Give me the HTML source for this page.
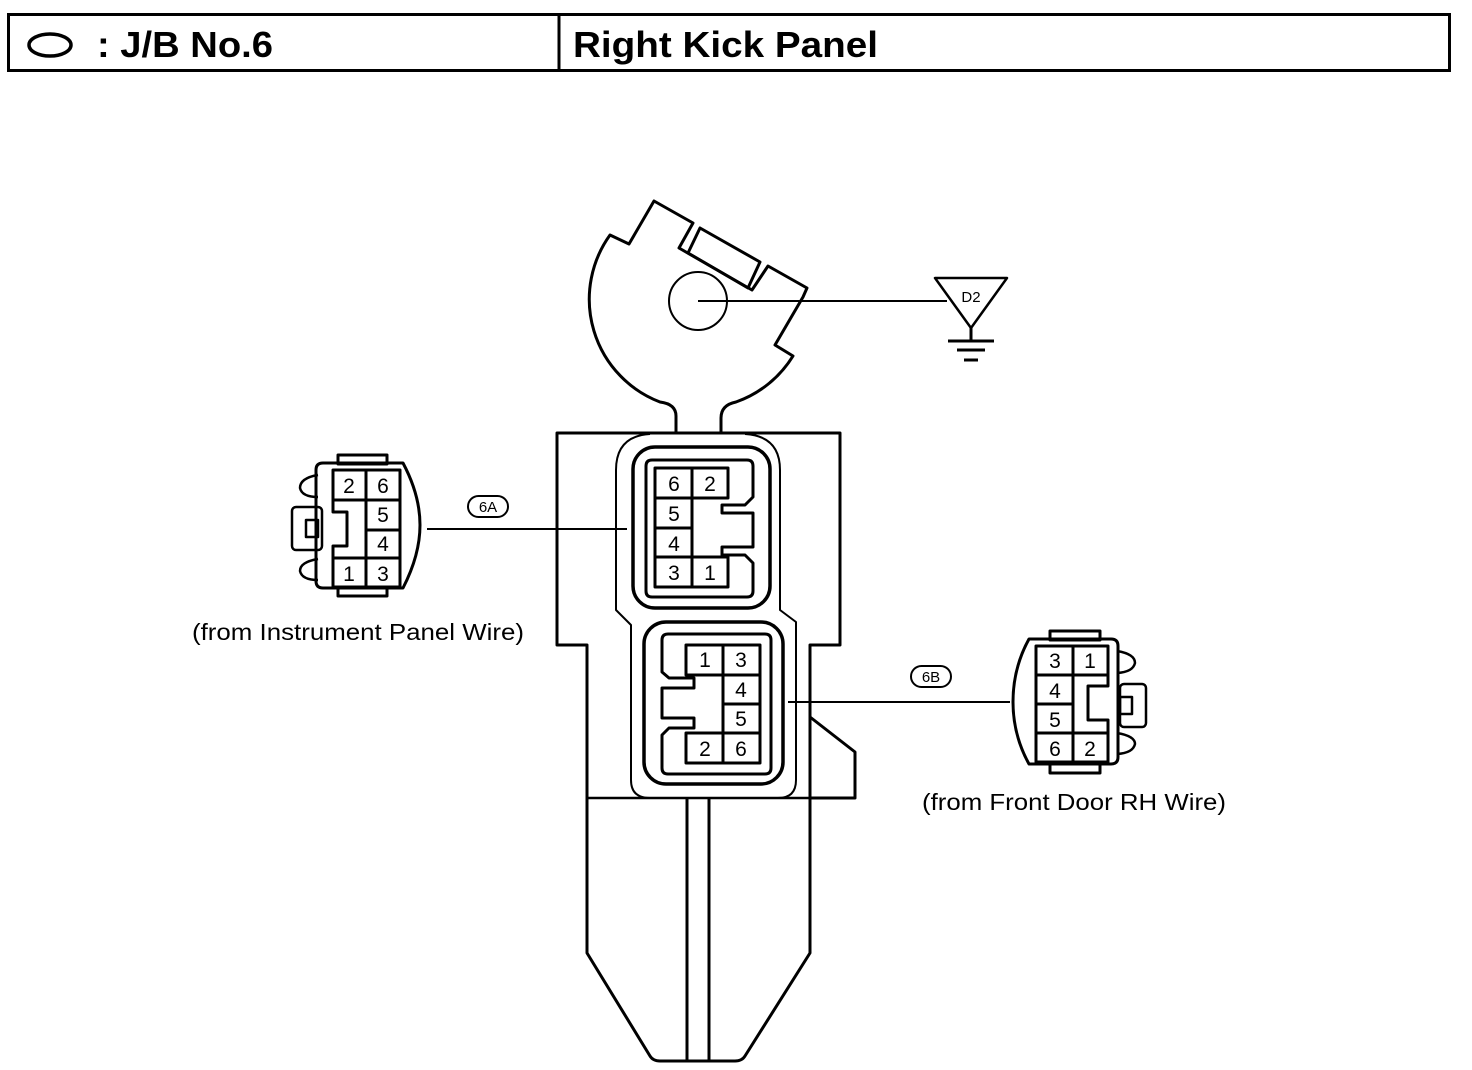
<!DOCTYPE html>
<html><head><meta charset="utf-8"><style>
html,body{margin:0;padding:0;background:#fff;}
svg{display:block;}
text{font-family:"Liberation Sans",Arial,sans-serif;fill:#000;}
</style></head><body>
<svg width="1472" height="1070" viewBox="0 0 1472 1070" xmlns="http://www.w3.org/2000/svg">
<!-- header -->
<rect x="8.5" y="14.5" width="1441" height="56" fill="none" stroke="#000" stroke-width="3"/>
<line x1="559" y1="14" x2="559" y2="71" stroke="#000" stroke-width="3"/>
<ellipse cx="50" cy="45" rx="21" ry="11" fill="none" stroke="#000" stroke-width="3.5"/>
<text x="97" y="57" font-size="36" font-weight="bold" textLength="176" lengthAdjust="spacingAndGlyphs">: J/B No.6</text>
<text x="573" y="57" font-size="36" font-weight="bold" textLength="305" lengthAdjust="spacingAndGlyphs">Right Kick Panel</text>

<g fill="none" stroke="#000" stroke-width="3" stroke-linejoin="round">
<!-- top bracket -->
<path d="M676,433 L676,416 Q676,404 660,402 A110,110 0 0 1 610,235 L629,244 L654,201 L693,223 L679,248 L752,290 L768,266 L807,288 L803,297 L775,345 L793,356 A110,110 0 0 1 736,402 Q721,405 721,418 L721,433"/>
<polygon points="700,228 760,262 748,288 688,253"/>
<circle cx="698" cy="301" r="29" stroke-width="2"/>
<!-- body outline -->
<path d="M587,953 L587,645 L557,645 L557,433 L840,433 L840,645 L810,645 L810,953 L745,1056 Q742,1061 735,1061 L660,1061 Q653,1061 650,1056 Z"/>
<path d="M810,717 L855,752 L855,798 L810,798"/>
<line x1="587" y1="798" x2="855" y2="798" stroke-width="2.5"/>
<line x1="687" y1="798" x2="687" y2="1061"/>
<line x1="709" y1="798" x2="709" y2="1061"/>
<!-- enclosure contour -->
<path d="M650,798 Q631,798 631,780 L631,625 L616,610 L616,470 Q616,436 650,434 M745,434 Q780,436 780,470 L780,610 L796,622 L796,780 Q796,798 778,798" stroke-width="2"/>
<!-- 6A housing -->
<rect x="633" y="447" width="137" height="161" rx="22" stroke-width="3.5"/>
<path d="M652,460 L747,460 Q753,460 753,466 L753,497 L745,505 L722,505 L722,513 L753,513 L753,547 L722,547 L722,555 L745,555 L753,563 L753,591 Q753,597 747,597 L652,597 Q646,597 646,591 L646,466 Q646,460 652,460 Z"/>
<path d="M655,468 L728,468 L728,498 L692,498 L692,557 L728,557 L728,587 L655,587 Z M655,498 L692,498 M655,528 L692,528 M655,557 L692,557 M692,468 L692,498 M692,557 L692,587"/>
<!-- 6B housing -->
<rect x="644" y="622" width="139" height="162" rx="22" stroke-width="3.5"/>
<path d="M668,634 L765,634 Q771,634 771,640 L771,768 Q771,774 765,774 L668,774 Q662,774 662,768 L662,735 L669,728 L694,728 L694,718 L662,718 L662,688 L694,688 L694,678 L669,678 L662,672 L662,640 Q662,634 668,634 Z"/>
<path d="M686,645 L760,645 L760,763 L686,763 L686,733 L723,733 L723,675 L686,675 Z M723,645 L723,675 M723,675 L760,675 M723,704 L760,704 M723,733 L760,733 M723,733 L723,763"/>
<!-- leader lines -->
<line x1="427" y1="529" x2="627" y2="529" stroke-width="2"/>
<line x1="788" y1="702" x2="1010" y2="702" stroke-width="2"/>
<line x1="698" y1="301" x2="947" y2="301" stroke-width="2"/>
<!-- ground -->
<polygon points="935,278 1007,278 971,328" stroke-width="2.5"/>
<line x1="971" y1="328" x2="971" y2="341"/>
<line x1="948" y1="341" x2="994" y2="341"/>
<line x1="957" y1="350" x2="985" y2="350"/>
<line x1="964" y1="360" x2="978" y2="360"/>
<!-- labels ovals -->
<rect x="468" y="496" width="40" height="21" rx="10.5" stroke-width="2"/>
<rect x="911" y="666" width="40" height="21" rx="10.5" stroke-width="2"/>

<!-- left plug -->
<rect x="338" y="455" width="49" height="9"/>
<rect x="338" y="587" width="49" height="9"/>
<path d="M323,463 L403,463 Q420,495 420,525 Q420,555 403,588 L323,588 Q316,588 316,581 L316,470 Q316,463 323,463 Z"/>
<path d="M333,470 L400,470 L400,587 L333,587 L333,558 L366,558 L366,500 L333,500 Z M366,470 L366,500 M366,530 L400,530 M366,558 L366,587 M366,500 L400,500 M366,558 L400,558"/>
<path d="M333,500 L333,512 L347,512 L347,546 L333,546 L333,558"/>
<path d="M318,475 Q300,478 300,488 Q302,497 318,497" stroke-width="2.5"/>
<path d="M318,559 Q300,562 300,571 Q302,580 318,580" stroke-width="2.5"/>
<rect x="292" y="507" width="30" height="43" rx="4" stroke-width="2.5"/>
<rect x="306" y="520" width="12" height="17" stroke-width="2.5"/>

<!-- right plug -->
<rect x="1050" y="631" width="50" height="9"/>
<rect x="1050" y="764" width="50" height="9"/>
<path d="M1029,639 L1111,639 Q1118,639 1118,646 L1118,757 Q1118,764 1111,764 L1029,764 Q1013,735 1013,702 Q1013,668 1029,639 Z"/>
<path d="M1036,646 L1108,646 L1108,675 L1073,675 L1073,733 L1108,733 L1108,762 L1036,762 Z M1073,646 L1073,675 M1036,675 L1073,675 M1036,704 L1073,704 M1036,733 L1073,733 M1073,733 L1073,762"/>
<path d="M1108,675 L1108,686 L1088,686 L1088,720 L1108,720 L1108,733"/>
<path d="M1117,651 Q1135,654 1135,663 Q1133,672 1117,673" stroke-width="2.5"/>
<path d="M1117,733 Q1135,736 1135,744 Q1133,753 1117,754" stroke-width="2.5"/>
<rect x="1120" y="684" width="26" height="43" rx="4" stroke-width="2.5"/>
<rect x="1120" y="697" width="12" height="17" stroke-width="2.5"/>
</g>

<g font-size="21" text-anchor="middle">
<text x="674" y="491">6</text><text x="710" y="491">2</text>
<text x="674" y="521">5</text><text x="674" y="551">4</text>
<text x="674" y="580">3</text><text x="710" y="580">1</text>
<text x="705" y="667">1</text><text x="741" y="667">3</text>
<text x="741" y="697">4</text><text x="741" y="726">5</text>
<text x="705" y="756">2</text><text x="741" y="756">6</text>
<text x="349" y="493">2</text><text x="383" y="493">6</text>
<text x="383" y="522">5</text><text x="383" y="551">4</text>
<text x="349" y="581">1</text><text x="383" y="581">3</text>
<text x="1055" y="668">3</text><text x="1090" y="668">1</text>
<text x="1055" y="698">4</text><text x="1055" y="727">5</text>
<text x="1055" y="756">6</text><text x="1090" y="756">2</text>
</g>
<g font-size="15" text-anchor="middle">
<text x="488" y="512">6A</text>
<text x="931" y="682">6B</text>
<text x="971" y="302">D2</text>
</g>
<g font-size="23">
<text x="192" y="640" textLength="332" lengthAdjust="spacingAndGlyphs">(from Instrument Panel Wire)</text>
<text x="922" y="810" textLength="304" lengthAdjust="spacingAndGlyphs">(from Front Door RH Wire)</text>
</g>
</svg>
</body></html>
